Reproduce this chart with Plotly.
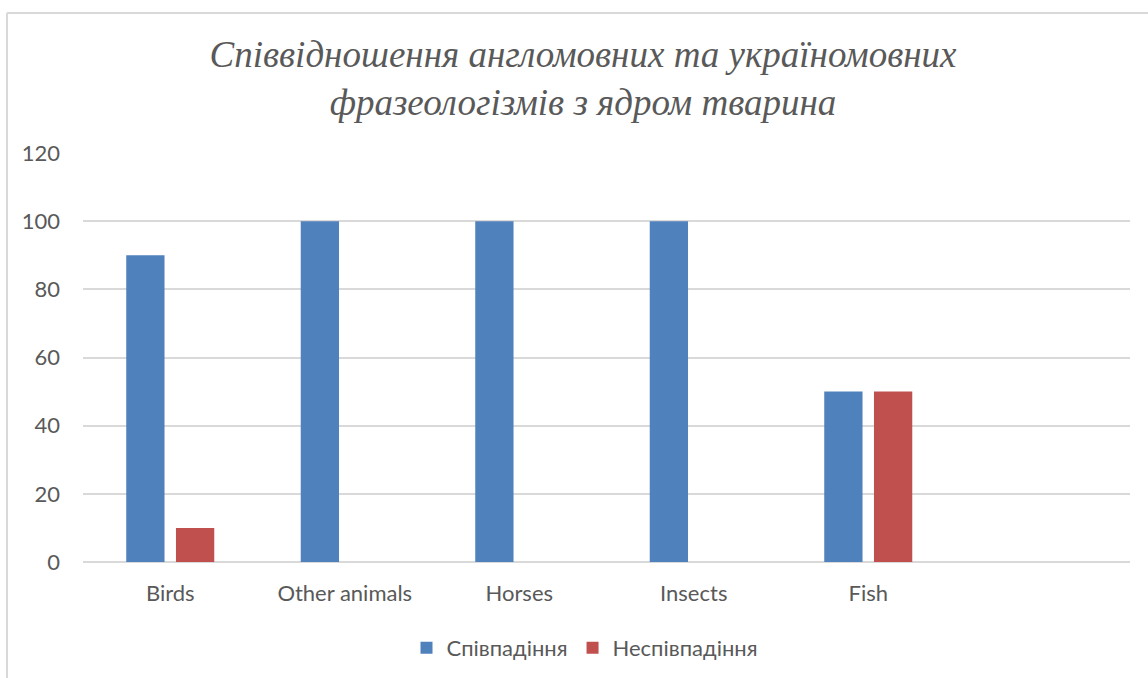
import plotly.graph_objects as go

categories = ["Birds", "Other animals", "Horses", "Insects", "Fish", " "]
match_vals = [90, 100, 100, 100, 50, None]
mismatch_vals = [10, None, None, None, 50, None]
series_names = ["Співпадіння", "Неспівпадіння"]
title_text = "Співвідношення англомовних та україномовних<br>фразеологізмів з ядром тварина"
y_ticks = [0, 20, 40, 60, 80, 100, 120]

W, H = 1148, 678
L, R, T, B = 83, 18, 153, 116

fig = go.Figure()
fig.add_trace(go.Bar(x=categories, y=match_vals, name=series_names[0],
                     marker=dict(color="#4F81BD", line=dict(width=0))))
fig.add_trace(go.Bar(x=categories, y=mismatch_vals, name=series_names[1],
                     marker=dict(color="#C0504D", line=dict(width=0))))

pw = W - L - R
ph = H - T - B
def px2x(p):
    return (p - L) / pw
def py2y(p):
    return (H - B - p) / ph

tick_font = dict(family="Lato", size=22, color="#595959")

fig.update_layout(
    width=W, height=H,
    margin=dict(l=L, r=R, t=T, b=B),
    paper_bgcolor="white", plot_bgcolor="white",
    barmode="group", bargap=0.43, bargroupgap=0.23,
    title=dict(text=title_text, x=583 / W, xanchor="center", xref="container",
               y=1 - 67 / H, yanchor="middle", yref="container",
               font=dict(family="Times New Roman, Liberation Serif, serif", size=37,
                         color="#595959", style="italic")),
    font=tick_font,
    xaxis=dict(showgrid=False, showline=False, zeroline=False, ticks="",
               tickfont=tick_font, ticklabelstandoff=16),
    yaxis=dict(range=[0, 120], tickvals=y_ticks, showgrid=True, gridcolor="#D9D9D9",
               gridwidth=1.5, zeroline=True, zerolinecolor="#D9D9D9", zerolinewidth=1.5,
               showline=False, ticks="", ticklabelstandoff=22, tickfont=tick_font),
    legend=dict(orientation="h", x=585 / W, xref="container", xanchor="center",
                y=1 - 648 / H, yref="container", yanchor="middle",
                font=tick_font, itemwidth=30, traceorder="normal"),
    showlegend=True,
)

# chart border (light grey), top and left visible
fig.add_shape(type="line", xref="paper", yref="paper",
              x0=px2x(7), x1=px2x(W + 5), y0=py2y(13), y1=py2y(13),
              line=dict(color="#D9D9D9", width=2))
fig.add_shape(type="line", xref="paper", yref="paper",
              x0=px2x(7), x1=px2x(7), y0=py2y(13), y1=py2y(H + 5),
              line=dict(color="#D9D9D9", width=2))

fig.write_html("out.html")
